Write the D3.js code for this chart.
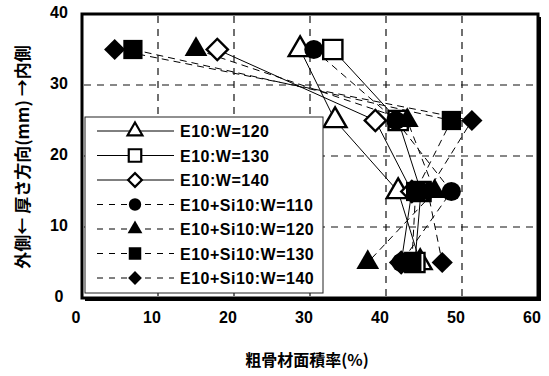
<!DOCTYPE html>
<html>
<head>
<meta charset="utf-8">
<script src="https://cdn.jsdelivr.net/npm/d3@7"></script>
<style>
  body { margin: 0; background: #fff; }
  svg { display: block; }
</style>
</head>
<body>
<div id="chart"></div>
<script>
// thickness position (mm) of each measuring row, top to bottom
var depth = [35, 25, 15, 5];

// coarse aggregate area ratio (%) at each depth
var e10W120 = [28.7, 33.3, 41.6, 44.5];
var e10W130 = [33.0, 41.6, 44.6, 43.8];
var e10W140 = [17.8, 38.6, 43.4, 42.0];
var siW110 = [30.5, 41.3, 48.6, 42.0];
var siW120 = [15.0, 42.8, 46.4, 37.6];
var siW130 = [6.7, 48.6, 43.9, 43.4];
var siW140 = [4.3, 51.3, 45.5, 47.4];

var seriesNames = ["E10:W=120", "E10:W=130", "E10:W=140",
    "E10+Si10:W=110", "E10+Si10:W=120", "E10+Si10:W=130", "E10+Si10:W=140"];
var xTicks = [0, 10, 20, 30, 40, 50, 60];
var yTicks = [0, 10, 20, 30, 40];

var width = 549;
var height = 376;
var plotLeft = 82, plotRight = 538, plotTop = 14, plotBottom = 298;

var shapes = ["triangle", "square", "diamond", "circle", "triangle", "square", "diamond"];
var series = [e10W120, e10W130, e10W140, siW110, siW120, siW130, siW140].map(function (vals, i) {
    return {
        name: seriesNames[i],
        shape: shapes[i],
        filled: i >= 3,
        points: vals.map(function (v, j) { return { x: v, y: depth[j] }; })
    };
});

var x = d3.scaleLinear().domain([0, 60]).range([plotLeft, plotRight]);
var y = d3.scaleLinear().domain([0, 40]).range([plotBottom, plotTop]);

var svg = d3.select("#chart").append("svg")
    .attr("width", width)
    .attr("height", height)
    .style("font-family", "'Liberation Sans', Arial, sans-serif");

svg.append("rect").attr("width", width).attr("height", height).attr("fill", "#fff");

// frame with a little drop shadow on the right and bottom
svg.append("rect")
    .attr("x", plotLeft + 3).attr("y", plotTop + 3)
    .attr("width", plotRight - plotLeft).attr("height", plotBottom - plotTop)
    .attr("fill", "#000");
svg.append("rect")
    .attr("x", plotLeft).attr("y", plotTop)
    .attr("width", plotRight - plotLeft).attr("height", plotBottom - plotTop)
    .attr("fill", "#fff")
    .attr("stroke", "#000")
    .attr("stroke-width", 3);

// dashed grid
svg.append("g").selectAll("line")
    .data(xTicks.slice(1, -1))
    .enter().append("line")
    .attr("x1", function (d) { return x(d); })
    .attr("x2", function (d) { return x(d); })
    .attr("y1", plotTop + 2).attr("y2", plotBottom - 2)
    .attr("stroke", "#111").attr("stroke-width", 1.2)
    .attr("stroke-dasharray", "7,6");
svg.append("g").selectAll("line")
    .data(yTicks.slice(1, -1))
    .enter().append("line")
    .attr("y1", function (d) { return y(d); })
    .attr("y2", function (d) { return y(d); })
    .attr("x1", plotLeft + 2).attr("x2", plotRight - 2)
    .attr("stroke", "#111").attr("stroke-width", 1.2)
    .attr("stroke-dasharray", "7,6");

// tick labels
svg.append("g").selectAll("text")
    .data(xTicks)
    .enter().append("text")
    .attr("x", function (d) { return x(d) - 6; })
    .attr("y", 323)
    .attr("text-anchor", "middle")
    .attr("font-size", 16).attr("font-weight", "bold")
    .text(function (d) { return d; });
svg.append("g").selectAll("text")
    .data(yTicks)
    .enter().append("text")
    .attr("x", 59)
    .attr("y", function (d) { return y(d) + 4; })
    .attr("text-anchor", "middle")
    .attr("font-size", 16).attr("font-weight", "bold")
    .text(function (d) { return d; });

// axis titles
svg.append("text")
    .attr("x", 307).attr("y", 366)
    .attr("text-anchor", "middle")
    .attr("font-family", "'Noto Sans CJK JP', sans-serif")
    .attr("font-size", 16).attr("font-weight", "bold")
    .text("粗骨材面積率(%)");
svg.append("text")
    .attr("transform", "translate(29,157) rotate(-90)")
    .attr("text-anchor", "middle")
    .attr("font-family", "'Noto Sans CJK JP', sans-serif")
    .attr("font-size", 17).attr("font-weight", "bold")
    .text("外側← 厚さ方向(mm) →内側");

function symbolPath(shape, scale) {
    var s = scale || 1;
    if (shape === "triangle") return d3.symbol(d3.symbolTriangle, 225 * s * s)();
    if (shape === "square") return d3.symbol(d3.symbolSquare, 370 * s * s)();
    if (shape === "diamond") return d3.symbol(d3.symbolSquare, 225 * s * s)();
    return d3.symbol(d3.symbolCircle, 285 * s * s)();
}

var line = d3.line()
    .x(function (d) { return x(d.x); })
    .y(function (d) { return y(d.y); });

// connecting lines
svg.append("g").selectAll("path")
    .data(series)
    .enter().append("path")
    .attr("d", function (d) { return line(d.points); })
    .attr("fill", "none")
    .attr("stroke", "#000")
    .attr("stroke-width", 1)
    .attr("stroke-dasharray", function (d) { return d.filled ? "7,5" : null; });

// markers
series.forEach(function (s) {
    svg.append("g").selectAll("path")
        .data(s.points)
        .enter().append("path")
        .attr("d", symbolPath(s.shape))
        .attr("transform", function (d) {
            return "translate(" + x(d.x) + "," + y(d.y) + ")" + (s.shape === "diamond" ? " rotate(45)" : "");
        })
        .attr("fill", s.filled ? "#000" : "#fff")
        .attr("stroke", "#000")
        .attr("stroke-width", s.filled ? 0 : 2.4);
});

// legend
var legend = svg.append("g");
legend.append("rect")
    .attr("x", 85).attr("y", 117)
    .attr("width", 238).attr("height", 176)
    .attr("fill", "#fff")
    .attr("stroke", "#222").attr("stroke-width", 1);

var items = legend.selectAll("g.item")
    .data(series)
    .enter().append("g")
    .attr("class", "item")
    .attr("transform", function (d, i) { return "translate(0," + (131 + i * 24.5) + ")"; });

items.append("line")
    .attr("x1", 97).attr("x2", 174)
    .attr("stroke", "#000").attr("stroke-width", 1)
    .attr("stroke-dasharray", function (d) { return d.filled ? "6,6" : null; });
items.append("path")
    .attr("d", function (d) { return symbolPath(d.shape, 0.65); })
    .attr("transform", function (d) { return "translate(135,0)" + (d.shape === "diamond" ? " rotate(45)" : ""); })
    .attr("fill", function (d) { return d.filled ? "#000" : "#fff"; })
    .attr("stroke", "#000")
    .attr("stroke-width", function (d) { return d.filled ? 0 : 2.2; });
items.append("text")
    .attr("x", 180).attr("y", 6)
    .attr("font-size", 16).attr("font-weight", "bold")
    .attr("letter-spacing", 0.5)
    .text(function (d) { return d.name; });
</script>
</body>
</html>
